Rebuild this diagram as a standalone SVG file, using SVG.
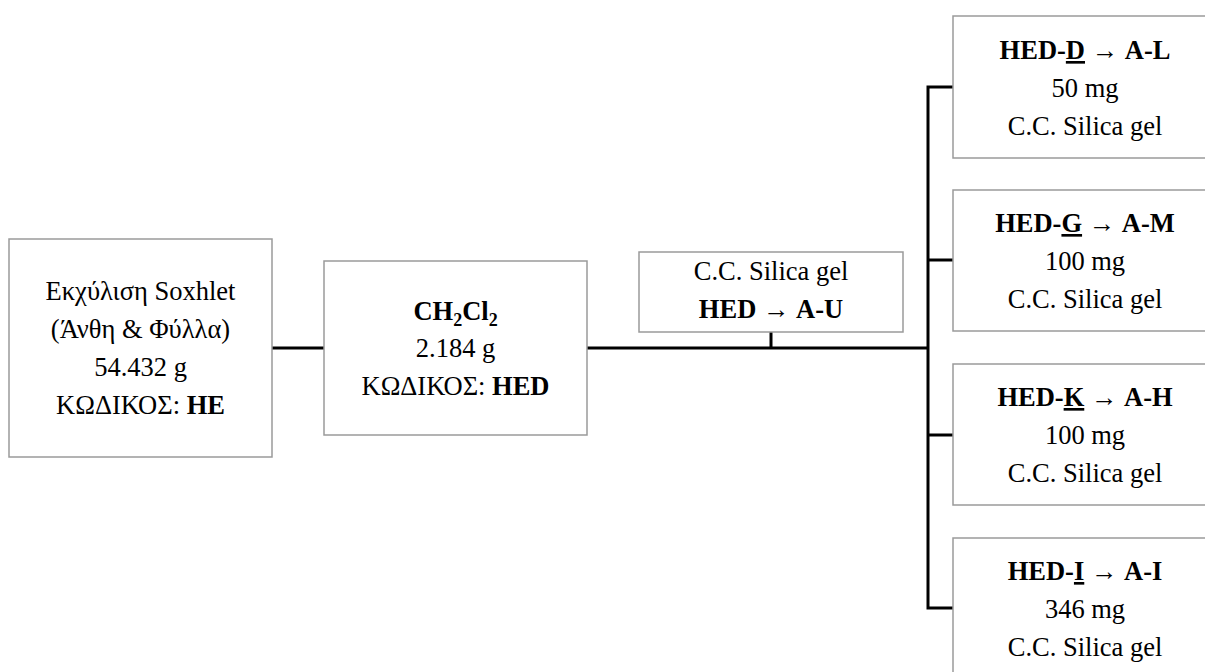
<svg xmlns="http://www.w3.org/2000/svg" width="1205" height="672" viewBox="0 0 1205 672">
<style>
.box{fill:#fff;stroke:#9a9a9a;stroke-width:1.5}
.t{font-family:'Liberation Serif','Times New Roman','DejaVu Serif',serif;font-size:26.5px;fill:#000;text-anchor:middle}
.b{font-weight:bold}
.u{text-decoration:underline}
.c{fill:none;stroke:#000;stroke-width:3}
</style>
<rect width="1205" height="672" fill="#fff"/>
<g id="connectors">
<line class="c" x1="272" y1="348" x2="324" y2="348"/>
<line class="c" x1="587" y1="348" x2="929" y2="348"/>
<line class="c" x1="771" y1="332" x2="771" y2="348"/>
<polyline class="c" points="953,87 928,87 928,608 953,608"/>
<line class="c" x1="928" y1="260" x2="953" y2="260"/>
<line class="c" x1="928" y1="435" x2="953" y2="435"/>
</g>
<g id="n_soxhlet">
<rect class="box" x="9" y="239" width="263" height="218"/>
<text class="t" x="140.5" y="300">Εκχύλιση Soxhlet</text>
<text class="t" x="140.5" y="338">(Άνθη &amp; Φύλλα)</text>
<text class="t" x="140.5" y="376">54.432 g</text>
<text class="t" x="140.5" y="414">ΚΩΔΙΚΟΣ: <tspan class="b">HE</tspan></text>
</g>
<g id="n_ch2cl2">
<rect class="box" x="324" y="261" width="263" height="174"/>
<text class="t b" x="455.5" y="320">CH<tspan font-size="18" dy="6">2</tspan><tspan dy="-6">Cl</tspan><tspan font-size="18" dy="6">2</tspan></text>
<text class="t" x="455.5" y="357">2.184 g</text>
<text class="t" x="455.5" y="395">ΚΩΔΙΚΟΣ: <tspan class="b">HED</tspan></text>
</g>
<g id="n_hed">
<rect class="box" x="639" y="252" width="264" height="80"/>
<text class="t" x="771" y="280">C.C. Silica gel</text>
<text class="t" x="771" y="318"><tspan class="b">HED</tspan> → <tspan class="b">A-U</tspan></text>
</g>
<g id="n_d">
<rect class="box" x="953" y="16" width="264" height="142"/>
<text class="t" x="1085" y="59"><tspan class="b">HED-</tspan><tspan class="b u">D</tspan> → <tspan class="b">A-L</tspan></text>
<text class="t" x="1085" y="97">50 mg</text>
<text class="t" x="1085" y="135">C.C. Silica gel</text>
</g>
<g id="n_g">
<rect class="box" x="953" y="190" width="264" height="141"/>
<text class="t" x="1085" y="232"><tspan class="b">HED-</tspan><tspan class="b u">G</tspan> → <tspan class="b">A-M</tspan></text>
<text class="t" x="1085" y="270">100 mg</text>
<text class="t" x="1085" y="308">C.C. Silica gel</text>
</g>
<g id="n_k">
<rect class="box" x="953" y="364" width="264" height="141"/>
<text class="t" x="1085" y="406"><tspan class="b">HED-</tspan><tspan class="b u">K</tspan> → <tspan class="b">A-H</tspan></text>
<text class="t" x="1085" y="444">100 mg</text>
<text class="t" x="1085" y="482">C.C. Silica gel</text>
</g>
<g id="n_i">
<rect class="box" x="953" y="538" width="264" height="142"/>
<text class="t" x="1085" y="580"><tspan class="b">HED-</tspan><tspan class="b u">I</tspan> → <tspan class="b">A-I</tspan></text>
<text class="t" x="1085" y="618">346 mg</text>
<text class="t" x="1085" y="656">C.C. Silica gel</text>
</g>
</svg>
